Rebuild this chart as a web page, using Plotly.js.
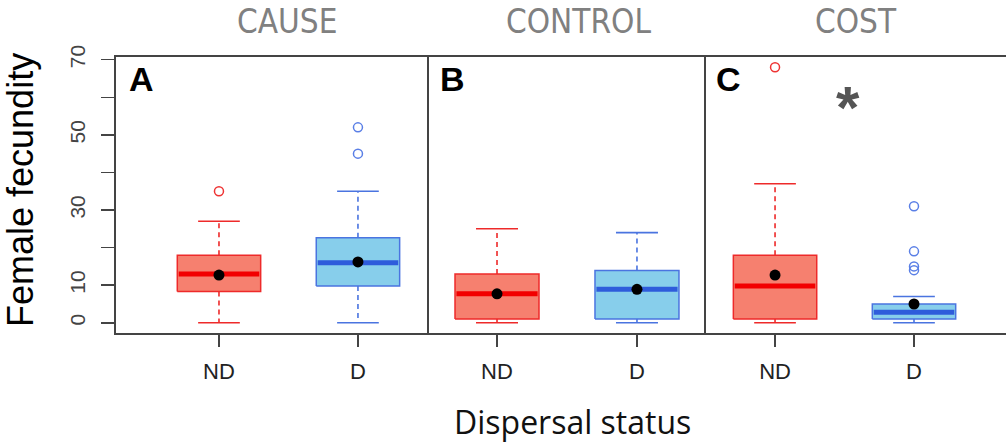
<!DOCTYPE html>
<html>
<head>
<meta charset="utf-8">
<script src="https://cdn.plot.ly/plotly-3.0.1.min.js"></script>
<style>html,body{margin:0;padding:0;background:#fff}#chart{width:1006px;height:445px}</style>
</head>
<body>
<div id="chart"></div>
<script>
// ---------- data ----------
const panelLetters = ['A', 'B', 'C'];
const panelTitles = ['CAUSE', 'CONTROL', 'COST'];
const groups = ['ND', 'D'];
// values per panel: [ND, D]
const lowerWhisker = [[0, 0], [0, 0], [0, 0]];
const q1 = [[8.3, 9.8], [1, 1], [1, 1]];
const medians = [[13, 16], [7.7, 8.9], [9.8, 2.8]];
const q3 = [[18, 22.6], [13, 13.9], [18, 5]];
const upperWhisker = [[27, 35], [25, 24], [37, 7]];
const means = [[12.7, 16.2], [7.7, 8.9], [12.7, 5]];
const outliers = [[[35], [52, 45]], [[], []], [[68], [31, 19, 15, 14]]];
const yTickVals = [0, 10, 20, 30, 40, 50, 60, 70];
const yTickText = ['0', '10', '', '30', '', '50', '', '70'];
const significance = ['', '', '*'];

// ---------- style ----------
const W = 1006, H = 445, ML = 116, MR = 0, MT = 57, MB = 112;
const PW = W - ML - MR, PH = H - MT - MB;
const px = v => (v - ML) / PW;
const py = v => (H - MB - v) / PH;
const domains = [[0, px(428)], [px(428), px(705)], [px(705), 1]];
const xRanges = [[0.259, 2.504], [0.507, 2.486], [0.496, 2.662]];
const style = {
  ND: {fill: '#F6806F', line: '#EE2A2A', med: '#F20000', out: '#EE3333'},
  D: {fill: '#87CEEB', line: '#4A74E0', med: '#2E5CDB', out: '#5A7FE6'}
};
const halfBox = 0.3, halfCap = 0.15;
const frameColor = '#444';

const traces = [];
panelLetters.forEach((p, pi) => {
  const xa = pi === 0 ? 'x' : 'x' + (pi + 1);
  groups.forEach((g, gi) => {
    const s = style[g];
    const pos = gi + 1;
    const a = q1[pi][gi], m = medians[pi][gi], b = q3[pi][gi];
    const lw = lowerWhisker[pi][gi], uw = upperWhisker[pi][gi];
    traces.push({type: 'scatter', mode: 'lines', xaxis: xa, yaxis: 'y', hoverinfo: 'skip',
      x: [pos, pos, null, pos, pos], y: [b, uw, null, a, lw],
      line: {color: s.line, width: 1.6, dash: '5px,4px'}, showlegend: false});
    traces.push({type: 'scatter', mode: 'lines', xaxis: xa, yaxis: 'y', hoverinfo: 'skip',
      x: [pos - halfCap, pos + halfCap, null, pos - halfCap, pos + halfCap],
      y: [uw, uw, null, lw, lw],
      line: {color: s.line, width: 1.6}, showlegend: false});
    traces.push({type: 'scatter', mode: 'lines', xaxis: xa, yaxis: 'y', name: g,
      x: [pos - halfBox, pos + halfBox, pos + halfBox, pos - halfBox, pos - halfBox],
      y: [a, a, b, b, a], fill: 'toself', fillcolor: s.fill,
      line: {color: s.line, width: 1.5}, showlegend: false});
    traces.push({type: 'scatter', mode: 'lines', xaxis: xa, yaxis: 'y', hoverinfo: 'skip',
      x: [pos - halfBox + 0.01, pos + halfBox - 0.01], y: [m, m],
      line: {color: s.med, width: 5}, showlegend: false});
    const o = outliers[pi][gi];
    if (o.length) {
      traces.push({type: 'scatter', mode: 'markers', xaxis: xa, yaxis: 'y',
        x: o.map(() => pos), y: o,
        marker: {symbol: 'circle-open', size: 9, color: s.out, line: {width: 1.5, color: s.out}},
        showlegend: false});
    }
    traces.push({type: 'scatter', mode: 'markers', xaxis: xa, yaxis: 'y',
      x: [pos], y: [means[pi][gi]],
      marker: {symbol: 'circle', size: 11, color: '#000'}, showlegend: false});
  });
});

const layout = {
  width: W, height: H,
  margin: {l: ML, r: MR, t: MT, b: MB, pad: 0},
  paper_bgcolor: '#fff', plot_bgcolor: '#fff',
  showlegend: false,
  font: {family: 'Liberation Sans, Arial, sans-serif', color: '#333'},
  yaxis: {
    range: [-2.72, 70.72], tickvals: yTickVals, ticktext: yTickText,
    ticks: 'outside', ticklen: 13, tickwidth: 1.5, tickcolor: frameColor,
    tickangle: -90, tickfont: {size: 21, color: '#444', family: 'Liberation Sans, Arial'},
    ticklabelstandoff: 8,
    showgrid: false, zeroline: false, showline: true, linecolor: frameColor, linewidth: 2
  },
  shapes: [],
  annotations: []
};
panelLetters.forEach((p, pi) => {
  const key = pi === 0 ? 'xaxis' : 'xaxis' + (pi + 1);
  layout[key] = {
    domain: domains[pi], range: xRanges[pi], anchor: 'y',
    tickvals: [1, 2], ticktext: groups,
    ticks: 'outside', ticklen: 12, tickwidth: 1.5, tickcolor: frameColor,
    tickfont: {size: 22, color: '#222', family: 'Liberation Sans, Arial'},
    ticklabelstandoff: 6,
    showgrid: false, zeroline: false, showline: true, mirror: true,
    linecolor: frameColor, linewidth: 2
  };
  if (pi > 0) {
    layout.shapes.push({type: 'line', xref: 'paper', yref: 'paper',
      x0: domains[pi][0], x1: domains[pi][0], y0: 0, y1: 1,
      line: {color: frameColor, width: 2}});
  }
});
const letterX = [141.3, 452.3, 728.5];
const titleX = [287, 578, 856];
panelLetters.forEach((p, pi) => {
  layout.annotations.push({text: '<b>' + p + '</b>', xref: 'paper', yref: 'paper',
    x: px(letterX[pi]), y: py(79), xanchor: 'center', yanchor: 'middle', showarrow: false,
    font: {size: 34, color: '#000', family: 'Liberation Sans, Arial'}});
  layout.annotations.push({text: panelTitles[pi], xref: 'paper', yref: 'paper',
    x: px(titleX[pi]), y: py(21), xanchor: 'center', yanchor: 'middle', showarrow: false,
    font: {size: 33, color: '#808080', family: 'Liberation Sans Narrow, Arial Narrow, DejaVu Sans Condensed, sans-serif'}});
  if (significance[pi]) {
    layout.annotations.push({text: '<b>' + significance[pi] + '</b>', xref: 'paper', yref: 'paper',
      x: px(848), y: py(107), xanchor: 'center', yanchor: 'middle', showarrow: false,
      font: {size: 60, color: '#555', family: 'Liberation Sans, Arial'}});
  }
});
layout.annotations.push({text: 'Female fecundity', xref: 'paper', yref: 'paper',
  x: px(20), y: py(190), xanchor: 'center', yanchor: 'middle', textangle: -90, showarrow: false,
  font: {size: 36, color: '#000', family: 'Liberation Sans, Arial'}});
layout.annotations.push({text: 'Dispersal status', xref: 'paper', yref: 'paper',
  x: px(572), y: py(421), xanchor: 'center', yanchor: 'middle', showarrow: false,
  font: {size: 32, color: '#111', family: 'Open Sans, sans-serif'}});

Plotly.newPlot('chart', traces, layout, {staticPlot: true, displayModeBar: false});
</script>
</body>
</html>
